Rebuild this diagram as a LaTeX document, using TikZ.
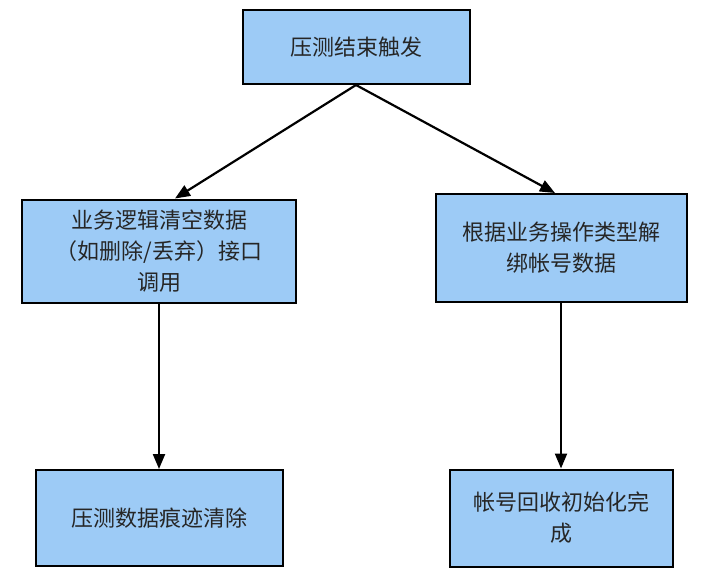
\documentclass[tikz,border=0pt]{standalone}
\usepackage{fontspec}
\setmainfont{Noto Sans CJK SC}
\usetikzlibrary{arrows.meta,positioning}
\definecolor{boxblue}{HTML}{9DCBF6}

\begin{document}
\begin{tikzpicture}[x=1pt,y=-1pt,
  box/.style={draw=black, line width=2pt, fill=boxblue, align=center,
    inner sep=0pt, text=black!85, font=\fontsize{22}{31}\selectfont},
  flow/.style={line width=2.2pt, -{Triangle[length=15pt,width=12pt]}}]
\useasboundingbox (0,0) rectangle (720,578);
\node [box, minimum width=227, minimum height=74] (trigger) at (356,47) {压测结束触发};
\node [box, minimum width=274, minimum height=103] (clear) at (159,251)
  {业务逻辑清空数据\\（如删除/丢弃）接口\\调用};
\node [box, minimum width=251, minimum height=108] (unbind) at (561,248)
  {根据业务操作类型解\\绑帐号数据};
\node [box, minimum width=247, minimum height=96] (trace) at (159,518) {压测数据痕迹清除};
\node [box, minimum width=223, minimum height=97] (recycle) at (561,518)
  {帐号回收初始化完\\成};
\path [flow]
(trigger.south) edge ([xshift=16]clear.north)
(trigger.south) edge ([xshift=-6]unbind.north)
(clear.south) edge (trace.north)
(unbind.south) edge (recycle.north);
\end{tikzpicture}
\end{document}
